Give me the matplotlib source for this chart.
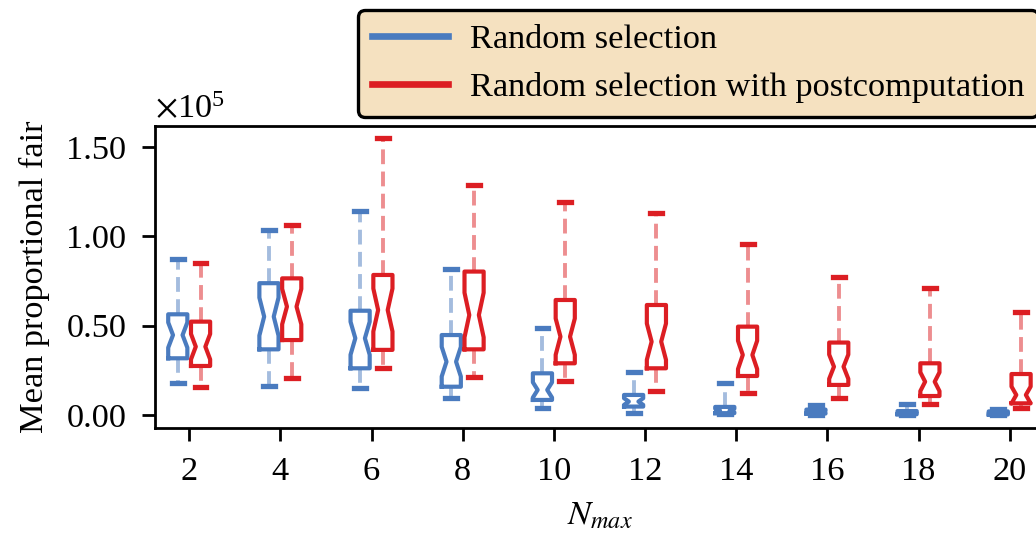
import numpy as np
import matplotlib.pyplot as plt
from matplotlib.lines import Line2D
from matplotlib.ticker import ScalarFormatter

plt.rcParams['font.family'] = ['Liberation Serif', 'DejaVu Serif']
plt.rcParams['mathtext.fontset'] = 'stix'
plt.rcParams['font.size'] = 12.4

# N_max values
n_max = [2, 4, 6, 8, 10, 12, 14, 16, 18, 20]

# Random selection (x 1e5)
rs_lo = [0.177, 0.164, 0.149, 0.097, 0.037, 0.013, 0.003, 0.002, 0.001, 0.001]
rs_q1 = [0.317, 0.367, 0.261, 0.158, 0.084, 0.047, 0.010, 0.008, 0.004, 0.003]
rs_med = [0.447, 0.550, 0.429, 0.298, 0.140, 0.075, 0.025, 0.018, 0.012, 0.010]
rs_q3 = [0.563, 0.737, 0.583, 0.447, 0.233, 0.112, 0.045, 0.030, 0.022, 0.020]
rs_hi = [0.871, 1.035, 1.143, 0.817, 0.485, 0.242, 0.177, 0.056, 0.061, 0.034]

# Random selection with postcomputation (x 1e5)
rp_lo = [0.158, 0.209, 0.261, 0.214, 0.192, 0.136, 0.121, 0.097, 0.061, 0.037]
rp_q1 = [0.274, 0.419, 0.364, 0.367, 0.289, 0.261, 0.218, 0.168, 0.106, 0.065]
rp_med = [0.382, 0.606, 0.587, 0.559, 0.438, 0.410, 0.336, 0.270, 0.186, 0.112]
rp_q3 = [0.522, 0.764, 0.783, 0.802, 0.643, 0.615, 0.494, 0.405, 0.289, 0.229]
rp_hi = [0.848, 1.061, 1.547, 1.286, 1.193, 1.132, 0.956, 0.774, 0.709, 0.574]

n_runs = 30
blue = '#4a7bbf'
red = '#dc1e23'


def make_stats(lo, q1, med, q3, hi):
    stats = []
    for a, b, c, d, e in zip(lo, q1, med, q3, hi):
        ci = 1.57 * (d - b) / np.sqrt(n_runs)
        stats.append(dict(whislo=a * 1e5, q1=b * 1e5, med=c * 1e5, q3=d * 1e5,
                          whishi=e * 1e5, cilo=(c - ci) * 1e5, cihi=(c + ci) * 1e5,
                          fliers=[]))
    return stats


def draw(ax, stats, pos, color):
    ax.bxp(stats, positions=pos, widths=0.42, capwidths=0.26, shownotches=True,
           showfliers=False, manage_ticks=False,
           boxprops=dict(color=color, linewidth=1.5),
           whiskerprops=dict(color=color, linewidth=1.4, alpha=0.5,
                             linestyle=(0, (3.8, 1.9))),
           capprops=dict(color=color, linewidth=1.9),
           medianprops=dict(visible=False))


class Fmt(ScalarFormatter):
    def _set_format(self):
        self.format = '%.2f'


fig = plt.figure(figsize=(5.18, 2.695), dpi=200)
ax = fig.add_axes([0.1496, 0.2059, 0.858, 0.5603])

x = np.array(n_max, dtype=float)
draw(ax, make_stats(rs_lo, rs_q1, rs_med, rs_q3, rs_hi), x - 0.25, blue)
draw(ax, make_stats(rp_lo, rp_q1, rp_med, rp_q3, rp_hi), x + 0.25, red)

ax.set_xlim(1.25, 20.75)
ax.set_ylim(-0.073e5, 1.616e5)
ax.set_xticks(n_max)
ax.set_yticks([0, 0.5e5, 1.0e5, 1.5e5])
fmt = Fmt(useMathText=True)
fmt.set_powerlimits((0, 0))
ax.yaxis.set_major_formatter(fmt)

for s in ax.spines.values():
    s.set_linewidth(1.0)
ax.tick_params(length=4.8, width=1.0, pad=5.5)

ax.set_xlabel('$N_{max}$', labelpad=5)
ax.set_ylabel('Mean proportional fair', labelpad=6)

handles = [Line2D([], [], color=blue, lw=2.4), Line2D([], [], color=red, lw=2.4)]
leg = fig.legend(handles, ['Random selection', 'Random selection with postcomputation'],
                 loc='upper left', bbox_to_anchor=(358 / 1036, 1 - 10 / 539),
                 borderaxespad=0, handlelength=2.2, handletextpad=0.65,
                 facecolor='#f5e1c0', edgecolor='black', framealpha=1)
leg.get_frame().set_linewidth(1.2)

fig.savefig('out.png', dpi=200)
